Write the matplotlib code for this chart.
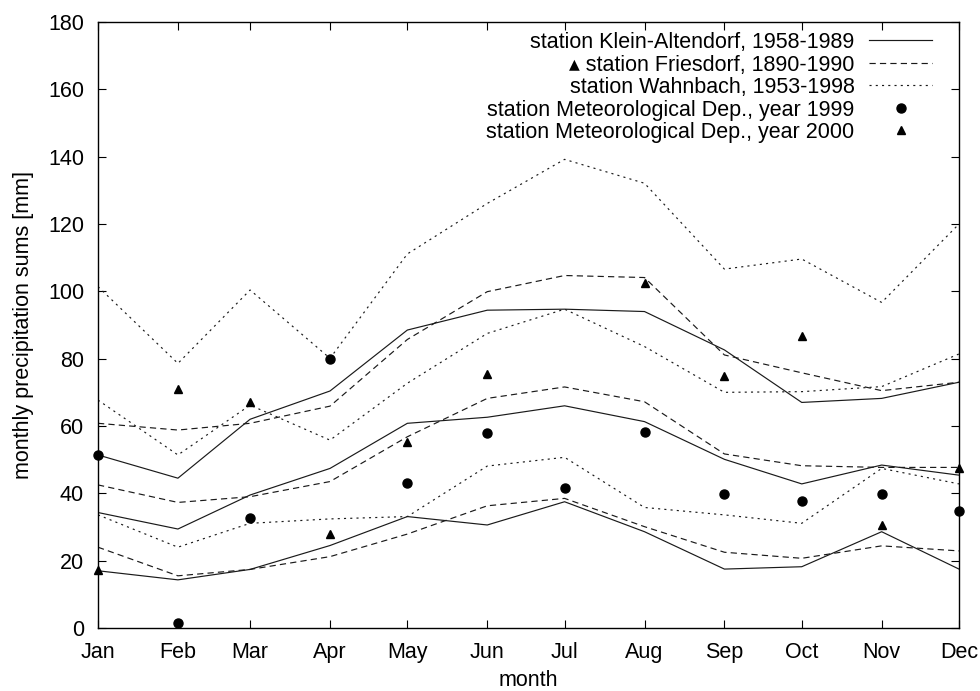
import numpy as np
import matplotlib
matplotlib.use("Agg")
import matplotlib.pyplot as plt

plt.rcParams['font.family'] = ['Liberation Sans', 'DejaVu Sans']
plt.rcParams['lines.scale_dashes'] = False

months = ["Jan", "Feb", "Mar", "Apr", "May", "Jun", "Jul", "Aug", "Sep", "Oct", "Nov", "Dec"]
day_of_year = [0, 31, 59, 90, 120, 151, 181, 212, 243, 273, 304, 334]

# Klein-Altendorf (solid): upper, middle, lower
ka_upper = [51.4, 44.5, 62.0, 70.4, 88.5, 94.4, 94.7, 94.0, 82.6, 67.0, 68.2, 73.0]
ka_mid   = [34.3, 29.4, 39.5, 47.4, 60.8, 62.6, 66.0, 61.3, 50.1, 42.8, 48.4, 45.4]
ka_lower = [17.0, 14.3, 17.4, 24.5, 33.1, 30.6, 37.5, 28.6, 17.5, 18.2, 28.6, 17.5]

# Friesdorf (dashed)
fr_upper = [60.8, 58.8, 60.8, 65.9, 85.7, 99.9, 104.7, 104.1, 81.1, 75.8, 70.5, 73.0]
fr_mid   = [42.5, 37.3, 39.0, 43.5, 56.8, 68.2, 71.6, 67.2, 51.7, 48.2, 47.7, 47.7]
fr_lower = [24.0, 15.5, 17.4, 21.2, 27.9, 36.3, 38.5, 30.1, 22.5, 20.7, 24.4, 22.9]

# Wahnbach (dotted)
wa_upper = [101.4, 78.6, 100.4, 80.1, 111.1, 126.1, 139.2, 132.1, 106.6, 109.6, 96.7, 120.0]
wa_mid   = [67.7, 51.4, 66.2, 55.8, 72.7, 87.5, 94.7, 83.6, 70.0, 70.2, 71.7, 81.4]
wa_lower = [33.6, 24.0, 31.1, 32.4, 33.1, 48.1, 50.7, 35.8, 33.6, 31.1, 47.4, 42.8]

# Meteorological Dep.
met_1999 = [51.4, 1.4, 32.8, 79.8, 43.2, 57.8, 41.7, 58.1, 39.8, 37.7, 39.8, 34.8]
met_2000 = [17.2, 70.9, 67.2, 27.9, 55.3, 75.4, np.nan, 102.6, 74.9, 86.7, 30.6, 47.6]

labels = ["station Klein-Altendorf, 1958-1989",
          "\u25B4 station Friesdorf, 1890-1990",
          "station Wahnbach, 1953-1998",
          "station Meteorological Dep., year 1999",
          "station Meteorological Dep., year 2000"]

fig = plt.figure(figsize=(9.8, 6.91), dpi=100)
ax = fig.add_axes([98/980, 1 - 628/691, (959-98)/980, (628-22)/691])

lw = 0.85
col = '#1a1a1a'
dash = (0, (4.5, 3.0))
dot = (0, (1.5, 3.0))

h1, = ax.plot(day_of_year, ka_upper, color=col, lw=lw, ls='-')
ax.plot(day_of_year, ka_mid, color=col, lw=lw, ls='-')
ax.plot(day_of_year, ka_lower, color=col, lw=lw, ls='-')

h2, = ax.plot(day_of_year, fr_upper, color=col, lw=lw, ls=dash)
ax.plot(day_of_year, fr_mid, color=col, lw=lw, ls=dash)
ax.plot(day_of_year, fr_lower, color=col, lw=lw, ls=dash)

h3, = ax.plot(day_of_year, wa_upper, color=col, lw=lw, ls=dot)
ax.plot(day_of_year, wa_mid, color=col, lw=lw, ls=dot)
ax.plot(day_of_year, wa_lower, color=col, lw=lw, ls=dot)

h4, = ax.plot(day_of_year, met_1999, ls='none', marker='o', ms=6.5, color='black', clip_on=False, zorder=5)
h5, = ax.plot(day_of_year, met_2000, ls='none', marker='^', ms=6.0, color='black', clip_on=False, zorder=5)

ax.set_xlim(day_of_year[0], day_of_year[-1])
ax.set_ylim(0, 180)
ax.set_xticks(day_of_year)
ax.set_xticklabels(months)
ax.set_yticks(np.arange(0, 181, 20))

fs = 15.5
ax.tick_params(direction='in', length=5.8, width=0.8, top=True, right=True,
               labelsize=fs, color='black')
ax.tick_params(axis='y', pad=10.0)
ax.tick_params(axis='x', pad=10.0)
for s in ax.spines.values():
    s.set_linewidth(1.0)

ax.set_xlabel("month", fontsize=fs, labelpad=5)
ax.set_ylabel("monthly precipitation sums [mm]", fontsize=fs, labelpad=10)

leg = ax.legend([h1, h2, h3, h4, h5], labels, loc='upper right',
                bbox_to_anchor=((932 - 98) / 861, 1 - 10 / 606),
                markerfirst=False, frameon=False, fontsize=fs,
                handlelength=2.92, handletextpad=0.68, labelspacing=0.07,
                borderpad=0, borderaxespad=0)

fig.savefig("out.png", dpi=100)
